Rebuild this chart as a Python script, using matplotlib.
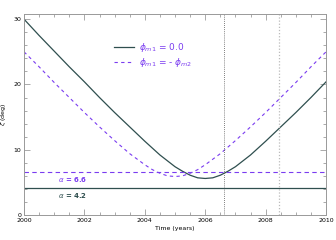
import numpy as np
import matplotlib
matplotlib.use("Agg")
import matplotlib.pyplot as plt
from matplotlib.ticker import MultipleLocator

# values
t_solid = [2000, 2000.5, 2001, 2001.5, 2002, 2002.5, 2003, 2003.5, 2004, 2004.5, 2005,
           2005.25, 2005.5, 2005.75, 2006, 2006.25, 2006.5, 2006.75, 2007, 2007.5,
           2008, 2008.5, 2009, 2009.5, 2010]
z_solid = [30.0, 27.5, 25.1, 22.7, 20.4, 18.0, 15.7, 13.5, 11.3, 9.2, 7.4,
           6.7, 6.1, 5.7, 5.6, 5.7, 6.1, 6.7, 7.4, 9.2,
           11.3, 13.5, 15.7, 18.0, 20.4]

t_dash = [2000, 2000.5, 2001, 2001.5, 2002, 2002.5, 2003, 2003.5, 2004, 2004.25, 2004.5,
          2004.75, 2005, 2005.25, 2005.5, 2005.75, 2006, 2006.5, 2007, 2007.5, 2008,
          2008.5, 2009, 2009.5, 2010]
z_dash = [25.0, 22.7, 20.3, 18.0, 15.7, 13.5, 11.4, 9.4, 7.7, 6.95, 6.4,
          6.0, 5.9, 6.0, 6.4, 6.95, 7.7, 9.4, 11.4, 13.5, 15.7,
          18.0, 20.3, 22.7, 25.0]

alpha_solid = 4.2
alpha_dash = 6.6
t_marks = [2006.63, 2008.44]

dark = "#2f4f4f"
purple = "#7a3cf0"

fig = plt.figure(figsize=(3.36, 2.4), dpi=100)
ax = fig.add_axes([0.0714, 0.104, 0.899, 0.838])

ax.plot(t_solid, z_solid, color=dark, lw=0.9, label=r"$\phi_{m1}$ = 0.0")
ax.plot(t_dash, z_dash, color=purple, lw=0.8, ls=(0, (3, 3)), label=r"$\phi_{m1}$ = - $\phi_{m2}$")
ax.axhline(alpha_solid, color=dark, lw=0.9)
ax.axhline(alpha_dash, color=purple, lw=0.8, ls=(0, (4, 3)))
ax.axvline(t_marks[0], color="#555555", lw=0.6, ls=(0, (1, 1.5)))
ax.axvline(t_marks[1], color="#bbbbbb", lw=0.9, ls=(0, (1, 1.5)))

ax.text(2001.6, alpha_dash - 0.45, r"$\alpha$ = %.1f" % alpha_dash, color=purple,
        fontsize=5, fontweight="bold", va="top", ha="center")
ax.text(2001.6, alpha_solid - 0.45, r"$\alpha$ = %.1f" % alpha_solid, color=dark,
        fontsize=5, fontweight="bold", va="top", ha="center")

ax.set_xlim(2000, 2010)
ax.set_ylim(0, 30.8)
ax.xaxis.set_major_locator(MultipleLocator(2))
ax.xaxis.set_minor_locator(MultipleLocator(0.5))
ax.yaxis.set_major_locator(MultipleLocator(10))
ax.yaxis.set_minor_locator(MultipleLocator(2))
ax.tick_params(which="both", direction="in", top=True, right=True, colors="#888888",
               labelcolor="black", labelsize=4.5, width=0.5, pad=2)
ax.tick_params(which="major", length=4)
ax.tick_params(which="minor", length=2)
for s in ax.spines.values():
    s.set_color("#999999")
    s.set_linewidth(0.7)

ax.set_xlabel("Time (years)", fontsize=4.5, labelpad=2)
ax.set_ylabel(r"$\zeta$ (deg)", fontsize=4.5, labelpad=4)

leg = ax.legend(loc="upper left", bbox_to_anchor=(0.27, 0.905), frameon=False,
                fontsize=6.5, handlelength=2.2, handletextpad=0.6, labelspacing=0.2,
                labelcolor=purple)

fig.savefig("out.png", dpi=100)
